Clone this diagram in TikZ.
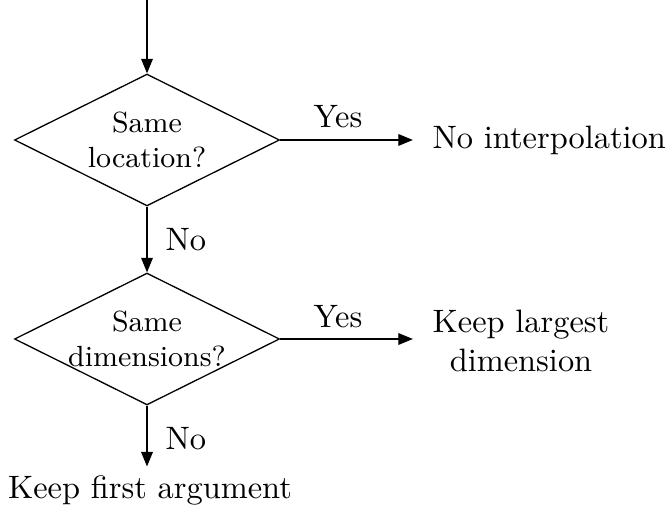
\documentclass[tikz,border=0pt]{standalone}
\usetikzlibrary{shapes.geometric,arrows.meta}
\begin{document}
\begin{tikzpicture}[x=0.3086pt,y=-0.3086pt,
 decision/.style={diamond,draw,line width=0.4pt,aspect=2,minimum width=81.8pt,minimum height=40.7pt,inner xsep=-4pt,inner ysep=0pt,align=center,font=\small},
 outcome/.style={align=center,inner sep=0pt},
 flow/.style={draw,line width=0.4pt,-{Triangle[length=4.5pt,width=3.6pt]}},
 lbl/.style={inner sep=0pt}]
\useasboundingbox (0,0) rectangle (667,510);
\coordinate (start) at (147,0);
\node[decision] (d1) at (147,140) {Same\\location?};
\node[decision] (d2) at (147,339) {Same\\dimensions?};
\node[outcome,anchor=west] (o1) at (432,140) {No interpolation};
\node[outcome] (o2) at (521,341) {Keep largest\\dimension};
\node[outcome] (o3) at (150,490) {Keep first argument};
\draw[flow] (start) -- (d1.north);
\draw[flow,shorten >=5.9pt] (d1.east) -- (o1.west);
\draw[flow] (d1.south) -- (d2.north);
\draw[flow,shorten >=5.9pt] (d2.east) -- (d2.east -| o2.west);
\draw[flow,shorten >=2.5pt] (d2.south) -- (d2.south |- o3.north);
\node[lbl] (y1) at (338,117) {Yes};
\node[lbl] (y2) at (338,317) {Yes};
\node[lbl,anchor=west] (n1) at (165,240) {No};
\node[lbl,anchor=west] (n2) at (165,439) {No};
\end{tikzpicture}
\end{document}
